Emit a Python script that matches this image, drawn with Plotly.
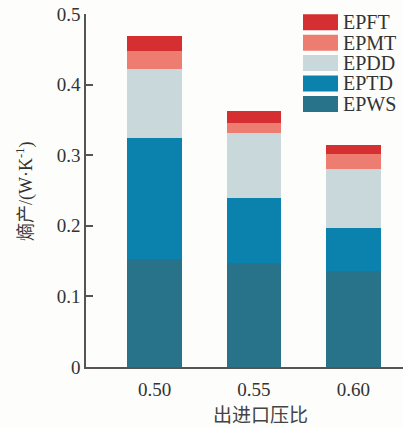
import plotly.graph_objects as go

categories = ["0.50", "0.55", "0.60"]
series_names = ["EPWS", "EPTD", "EPDD", "EPMT", "EPFT"]
EPWS = [0.153, 0.147, 0.136]
EPTD = [0.171, 0.092, 0.061]
EPDD = [0.098, 0.092, 0.083]
EPMT = [0.026, 0.015, 0.021]
EPFT = [0.021, 0.017, 0.014]
series_values = [EPWS, EPTD, EPDD, EPMT, EPFT]
colors = ["#28728A", "#0B81AE", "#C8D8DB", "#EC7D70", "#D62F31"]
yticks = [0, 0.1, 0.2, 0.3, 0.4, 0.5]
ytick_text = ["0", "0.1", "0.2", "0.3", "0.4", "0.5"]

W, H = 403, 428
ML, MR, MT, MB = 86, 0, 14, 61
PW, PH = W - ML - MR, H - MT - MB

def px_x(px):
    return (px - ML) / PW

def px_y(py):
    return (H - MB - py) / PH

SERIF = "Liberation Serif, Noto Sans CJK SC, serif"
CJK = "Noto Sans CJK SC, Liberation Serif, sans-serif"

fig = go.Figure()
xs = list(range(len(categories)))
for name, vals, col in zip(series_names, series_values, colors):
    fig.add_trace(go.Bar(x=xs, y=vals, name=name, width=0.55,
                         marker=dict(color=col, line=dict(width=0)),
                         showlegend=False))

# custom legend (top-down order)
shapes = []
annotations = []
row_top = 14.3
row_step = 20.4
for i, (name, col) in enumerate(zip(series_names[::-1], colors[::-1])):
    top = row_top + i * row_step
    shapes.append(dict(type="rect", xref="paper", yref="paper",
                       x0=px_x(303), x1=px_x(338), y0=px_y(top + 16), y1=px_y(top),
                       fillcolor=col, line=dict(width=0)))
    annotations.append(dict(text=name, xref="paper", yref="paper",
                            x=px_x(341), y=px_y(top + 8), xanchor="left", yanchor="middle",
                            showarrow=False, font=dict(family=SERIF, size=20, color="#333")))

annotations.append(dict(text="熵产/(W·K<sup>-1</sup>)", xref="paper", yref="paper",
                        x=px_x(25), y=px_y(192), textangle=-90, xanchor="center", yanchor="middle",
                        showarrow=False, font=dict(family=SERIF, size=18, color="#333")))
annotations.append(dict(text="出进口压比", xref="paper", yref="paper",
                        x=px_x(260), y=px_y(413), xanchor="center", yanchor="middle",
                        showarrow=False, font=dict(family=CJK, size=19, color="#444")))

fig.update_layout(
    width=W, height=H,
    margin=dict(l=ML, r=MR, t=MT, b=MB),
    barmode="stack",
    paper_bgcolor="#FDFDFB", plot_bgcolor="#FDFDFB",
    shapes=shapes, annotations=annotations,
    xaxis=dict(range=[-0.69, 2.5], tickvals=xs, ticktext=categories,
               showline=True, linecolor="#555", linewidth=1.5, ticks="",
               showgrid=False, zeroline=False, ticklabelstandoff=4,
               tickfont=dict(family=SERIF, size=19, color="#333")),
    yaxis=dict(range=[0, 0.5], tickvals=yticks, ticktext=ytick_text,
               showline=True, linecolor="#555", linewidth=1.5,
               ticks="inside", ticklen=7, tickwidth=1.5, tickcolor="#555",
               showgrid=False, zeroline=False,
               tickfont=dict(family=SERIF, size=19, color="#333")),
)

fig.write_html("out.html")
